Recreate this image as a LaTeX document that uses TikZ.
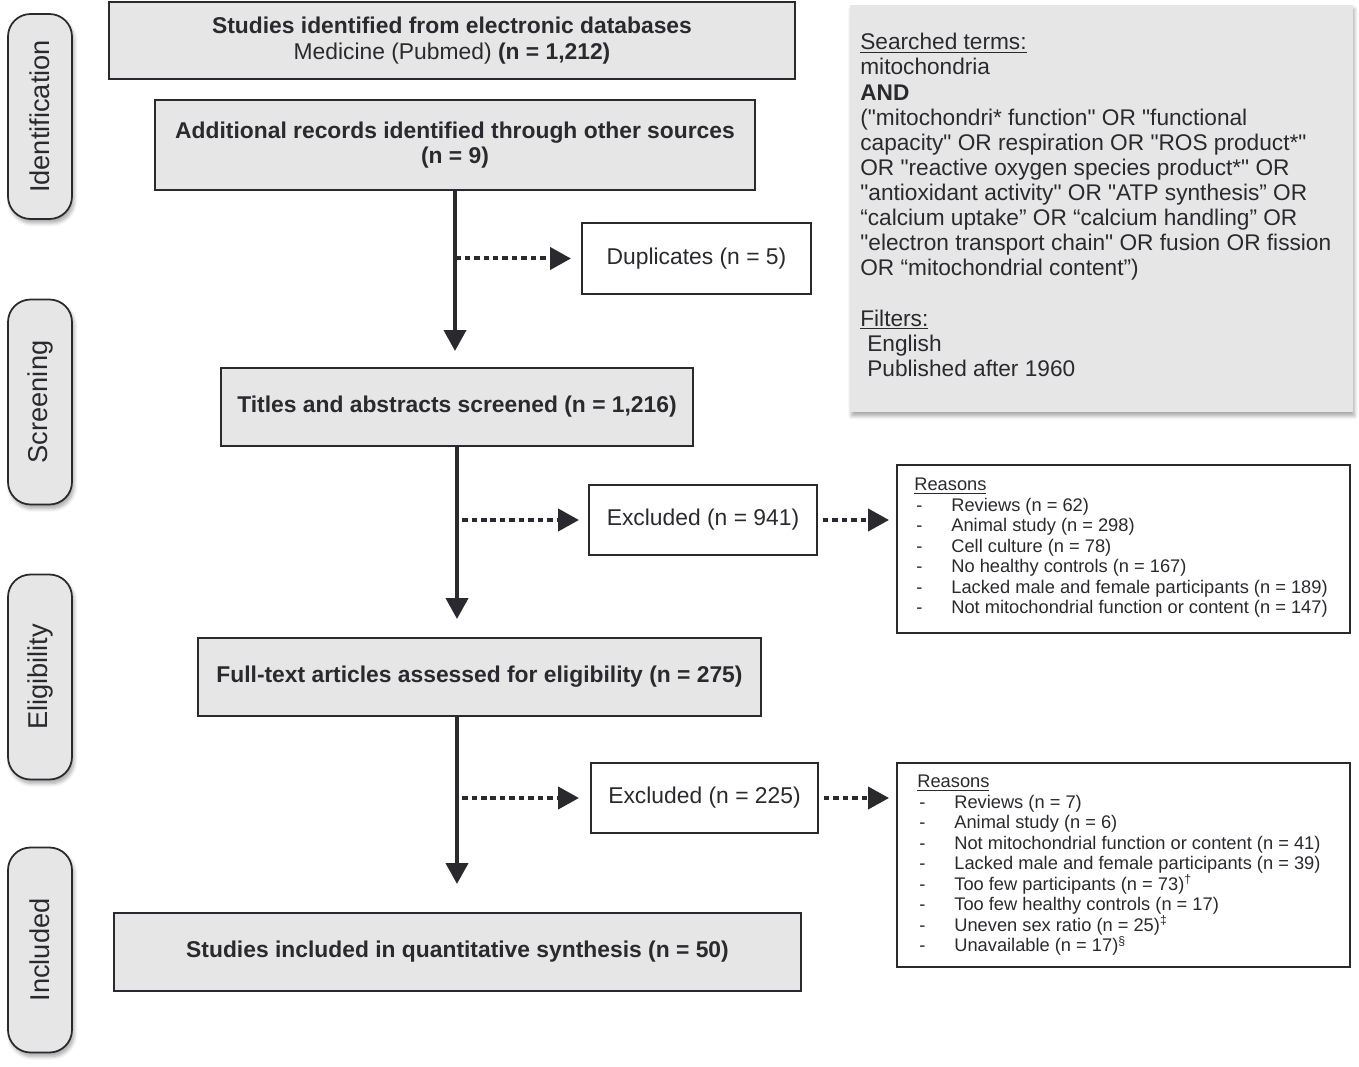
\documentclass[tikz,border=0pt]{standalone}
\usepackage{fontspec}
\setmainfont{Liberation Sans}[Ligatures=TeXOff]
\usepackage{tikz}
\usetikzlibrary{arrows.meta}
\usetikzlibrary{shadows.blur}
\definecolor{boxgray}{RGB}{230,230,230}
\definecolor{linedark}{RGB}{42,42,46}
\newcommand{\rsn}[1]{\makebox[0.74cm][l]{\hspace{0.04cm}-}#1}
\tikzset{
  graybox/.style={draw=linedark, line width=0.04cm, fill=boxgray, align=center, inner sep=0pt,
    text=linedark, font=\fontsize{13}{14.5}\selectfont\bfseries},
  whitebox/.style={draw=linedark, line width=0.04cm, fill=white, inner sep=0pt,
    text=linedark, font=\fontsize{13}{14.5}\selectfont},
  stagebox/.style={draw=linedark, line width=0.035cm, fill=boxgray, rounded corners=0.45cm,
    rotate=90, minimum width=4.1cm, minimum height=1.28cm, text=linedark,
    font=\fontsize{15.5}{18}\selectfont,
    blur shadow={shadow xshift=0.04cm, shadow yshift=-0.08cm, shadow opacity=35, shadow blur steps=6}},
  listtext/.style={anchor=north west, inner sep=0pt, align=left, text=linedark},
  flow/.style={draw=linedark, line width=0.08cm, -{Triangle[length=0.42cm, width=0.44cm]}},
  side/.style={draw=linedark, line width=0.08cm, dash pattern=on 0.11cm off 0.08cm,
    -{Triangle[length=0.42cm, width=0.44cm]}},
}

\begin{document}
\begin{tikzpicture}[x=0.02cm, y=-0.02cm]
	\useasboundingbox (0,0) rectangle (1359,1067);
	% stages on the left
	\foreach \ypos/\nm/\lab in {116.5/ident/Identification, 402/scrn/Screening, 677/elig/Eligibility, 950/incd/Included} {
		\node[stagebox] (stage-\nm) at (40,\ypos) {\lab};
	}

	% search terms
	\node[fill=boxgray, minimum width=10.06cm, minimum height=8.14cm, inner sep=0pt,
		blur shadow={shadow xshift=0.03cm, shadow yshift=-0.08cm, shadow opacity=35, shadow blur steps=6}]
		(terms) at (1101.5,208.5) {};
	\node[listtext, font=\fontsize{12.9}{14.3}\selectfont] (termtext) at (860,33) {%
		\underline{Searched terms:}\\
		mitochondria\\
		\textbf{AND}\\
		("mitochondri* function" OR "functional\\
		capacity" OR respiration OR "ROS product*"\\
		OR "reactive oxygen species product*" OR\\
		"antioxidant activity" OR "ATP synthesis” OR\\
		“calcium uptake” OR “calcium handling” OR\\
		"electron transport chain" OR fusion OR fission\\
		OR “mitochondrial content”)\\[14.3pt]
		\underline{Filters:}\\
		\hspace{0.14cm}English\\
		\hspace{0.14cm}Published after 1960};

	% main boxes
	\node[graybox, minimum width=13.72cm, minimum height=1.54cm] (db) at (452,40.5)
		{Studies identified from electronic databases\\ \mdseries Medicine (Pubmed) \bfseries(n = 1,212)};
	\node[graybox, minimum width=12cm, minimum height=1.8cm] (other) at (455,145)
		{Additional records identified through other sources\\ (n = 9)};
	\node[whitebox, minimum width=4.58cm, minimum height=1.42cm] (dup) at (696.5,258.5) {Duplicates (n = 5)};
	\node[graybox, minimum width=9.44cm, minimum height=1.56cm] (screen) at (457,407)
		{Titles and abstracts screened (n = 1,216)};
	\node[whitebox, minimum width=4.56cm, minimum height=1.4cm] (excl1) at (703,520) {Excluded (n = 941)};
	\node[graybox, minimum width=11.26cm, minimum height=1.56cm] (full) at (479.5,677)
		{Full-text articles assessed for eligibility (n = 275)};
	\node[whitebox, minimum width=4.54cm, minimum height=1.4cm] (excl2) at (704.5,798) {Excluded (n = 225)};
	\node[graybox, minimum width=13.74cm, minimum height=1.56cm] (incl) at (457.5,952)
		{Studies included in quantitative synthesis (n = 50)};

	% reasons
	\node[whitebox, minimum width=9.06cm, minimum height=3.36cm] (why1) at (1123.5,549) {};
	\node[listtext, font=\fontsize{10.4}{11.65}\selectfont] (why1text) at (914,478) {%
		\underline{Reasons}\\
		\rsn{Reviews (n = 62)}\\
		\rsn{Animal study (n = 298)}\\
		\rsn{Cell culture (n = 78)}\\
		\rsn{No healthy controls (n = 167)}\\
		\rsn{Lacked male and female participants (n = 189)}\\
		\rsn{Not mitochondrial function or content (n = 147)}};
	\node[whitebox, minimum width=9.06cm, minimum height=4.08cm] (why2) at (1123.5,865) {};
	\node[listtext, font=\fontsize{10.4}{11.65}\selectfont] (why2text) at (917,775) {%
		\underline{Reasons}\\
		\rsn{Reviews (n = 7)}\\
		\rsn{Animal study (n = 6)}\\
		\rsn{Not mitochondrial function or content (n = 41)}\\
		\rsn{Lacked male and female participants (n = 39)}\\
		\rsn{Too few participants (n = 73)\textsuperscript{\scriptsize †}}\\
		\rsn{Too few healthy controls (n = 17)}\\
		\rsn{Uneven sex ratio (n = 25)\textsuperscript{\scriptsize ‡}}\\
		\rsn{Unavailable (n = 17)\textsuperscript{\scriptsize §}}};

	% identification -> screening
	\draw[flow, shorten >=0.32cm] (other.south) -- (other.south |- screen.north);
	\draw[side, shorten >=0.2cm] (other.south |- dup.west) -- (dup.west);
	% screening -> eligibility
	\draw[flow, shorten >=0.36cm] (screen.south) -- (screen.south |- full.north);
	\draw[side, shorten <=0.1cm, shorten >=0.18cm] (screen.south |- excl1.west) -- (excl1.west);
	\draw[side, shorten <=0.1cm, shorten >=0.14cm] (excl1.east) -- (why1.west |- excl1.east);
	% eligibility -> included
	\draw[flow, shorten >=0.56cm] (screen.south |- full.south) -- (screen.south |- incl.north);
	\draw[side, shorten <=0.1cm, shorten >=0.22cm] (screen.south |- excl2.west) -- (excl2.west);
	\draw[side, shorten <=0.1cm, shorten >=0.14cm] (excl2.east) -- (why2.west |- excl2.east);
\end{tikzpicture}
\end{document}
